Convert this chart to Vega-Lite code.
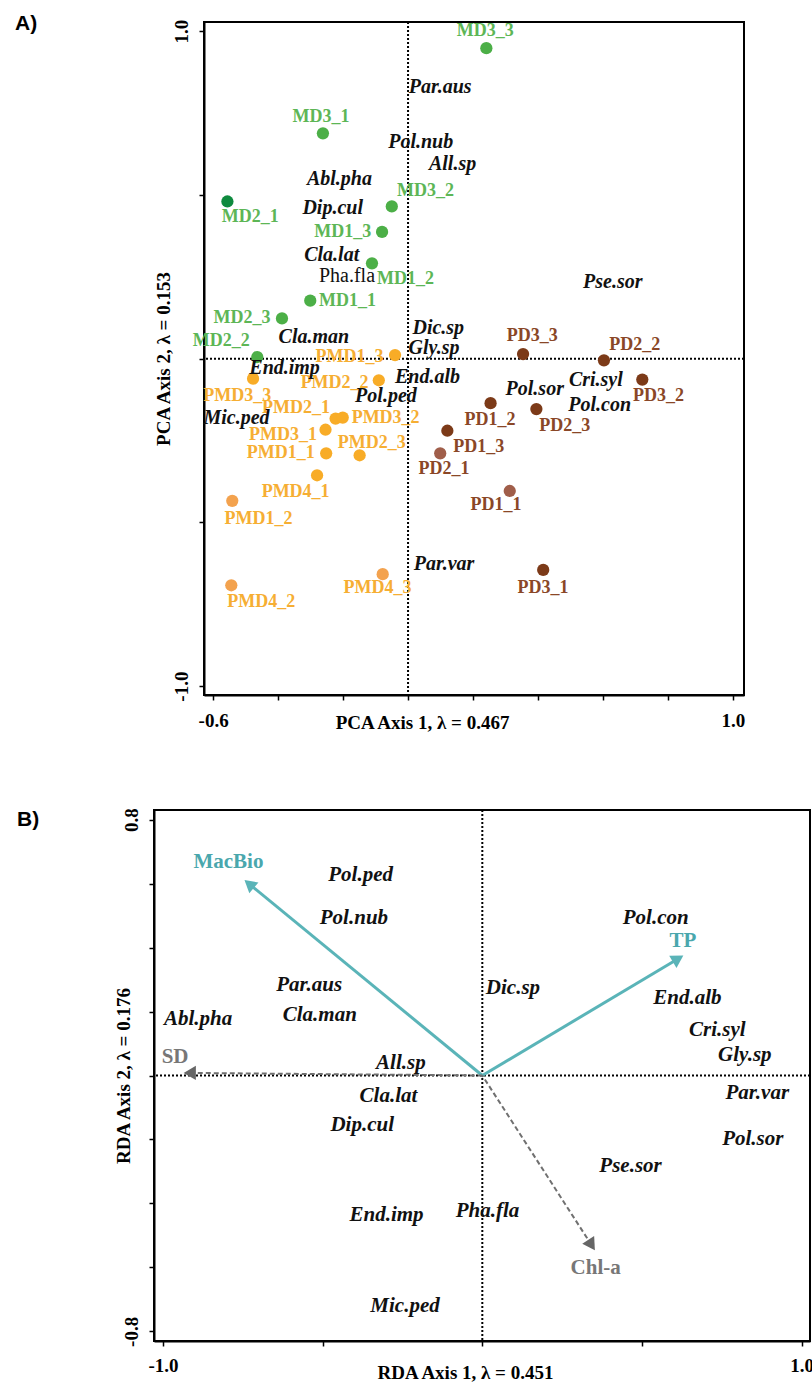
{
  "$schema": "https://vega.github.io/schema/vega-lite/v6.json",
  "padding": {"left": 15, "top": 13, "right": 0, "bottom": 5},
  "datasets": {
    "sitesA": [
      {"id": "MD3_3", "site": "MD", "tone": "MD", "x": 0.241, "y": 0.948, "lx": 0.238, "ly": 1.0},
      {"id": "MD3_1", "site": "MD", "tone": "MD", "x": -0.262, "y": 0.688, "lx": -0.268, "ly": 0.737},
      {"id": "MD2_1", "site": "MD", "tone": "MDd", "x": -0.556, "y": 0.48, "lx": -0.486, "ly": 0.432},
      {"id": "MD3_2", "site": "MD", "tone": "MD", "x": -0.05, "y": 0.465, "lx": 0.054, "ly": 0.511},
      {"id": "MD1_3", "site": "MD", "tone": "MD", "x": -0.08, "y": 0.387, "lx": -0.201, "ly": 0.386},
      {"id": "MD1_2", "site": "MD", "tone": "MD", "x": -0.111, "y": 0.291, "lx": -0.008, "ly": 0.243},
      {"id": "MD1_1", "site": "MD", "tone": "MD", "x": -0.301, "y": 0.177, "lx": -0.186, "ly": 0.176},
      {"id": "MD2_3", "site": "MD", "tone": "MD", "x": -0.388, "y": 0.123, "lx": -0.511, "ly": 0.124},
      {"id": "MD2_2", "site": "MD", "tone": "MD", "x": -0.464, "y": 0.005, "lx": -0.575, "ly": 0.053},
      {"id": "PMD1_3", "site": "PMD", "tone": "PMD", "x": -0.04, "y": 0.011, "lx": -0.18, "ly": 0.004},
      {"id": "PMD3_3", "site": "PMD", "tone": "PMD", "x": -0.477, "y": -0.061, "lx": -0.526, "ly": -0.115},
      {"id": "PMD2_2", "site": "PMD", "tone": "PMD", "x": -0.09, "y": -0.066, "lx": -0.226, "ly": -0.073},
      {"id": "PMD2_1", "site": "PMD", "tone": "PMD", "x": -0.223, "y": -0.183, "lx": -0.345, "ly": -0.151},
      {"id": "PMD3_2", "site": "PMD", "tone": "PMD", "x": -0.201, "y": -0.18, "lx": -0.069, "ly": -0.182},
      {"id": "PMD3_1", "site": "PMD", "tone": "PMD", "x": -0.254, "y": -0.217, "lx": -0.385, "ly": -0.234},
      {"id": "PMD1_1", "site": "PMD", "tone": "PMD", "x": -0.252, "y": -0.289, "lx": -0.392, "ly": -0.289},
      {"id": "PMD2_3", "site": "PMD", "tone": "PMD", "x": -0.149, "y": -0.295, "lx": -0.112, "ly": -0.256},
      {"id": "PMD4_1", "site": "PMD", "tone": "PMD", "x": -0.28, "y": -0.356, "lx": -0.346, "ly": -0.407},
      {"id": "PMD1_2", "site": "PMD", "tone": "PMDl", "x": -0.541, "y": -0.434, "lx": -0.46, "ly": -0.49},
      {"id": "PMD4_2", "site": "PMD", "tone": "PMDl", "x": -0.544, "y": -0.692, "lx": -0.452, "ly": -0.744},
      {"id": "PMD4_3", "site": "PMD", "tone": "PMDl", "x": -0.078, "y": -0.658, "lx": -0.094, "ly": -0.701},
      {"id": "PD3_3", "site": "PD", "tone": "PD", "x": 0.354, "y": 0.014, "lx": 0.382, "ly": 0.07},
      {"id": "PD2_2", "site": "PD", "tone": "PD", "x": 0.603, "y": -0.005, "lx": 0.698, "ly": 0.041},
      {"id": "PD3_2", "site": "PD", "tone": "PD", "x": 0.721, "y": -0.064, "lx": 0.771, "ly": -0.115},
      {"id": "PD1_2", "site": "PD", "tone": "PD", "x": 0.254, "y": -0.136, "lx": 0.252, "ly": -0.187},
      {"id": "PD2_3", "site": "PD", "tone": "PD", "x": 0.395, "y": -0.154, "lx": 0.482, "ly": -0.205},
      {"id": "PD1_3", "site": "PD", "tone": "PD", "x": 0.121, "y": -0.22, "lx": 0.218, "ly": -0.271},
      {"id": "PD2_1", "site": "PD", "tone": "PDl", "x": 0.099, "y": -0.289, "lx": 0.111, "ly": -0.337},
      {"id": "PD1_1", "site": "PD", "tone": "PDl", "x": 0.313, "y": -0.404, "lx": 0.271, "ly": -0.447},
      {"id": "PD3_1", "site": "PD", "tone": "PD", "x": 0.416, "y": -0.645, "lx": 0.415, "ly": -0.699}
    ],
    "speciesA": [
      {"sp": "Par.aus", "x": 0.099, "y": 0.828},
      {"sp": "Pol.nub", "x": 0.039, "y": 0.661},
      {"sp": "All.sp", "x": 0.137, "y": 0.593},
      {"sp": "Abl.pha", "x": -0.211, "y": 0.548},
      {"sp": "Dip.cul", "x": -0.232, "y": 0.459},
      {"sp": "Cla.lat", "x": -0.235, "y": 0.317},
      {"sp": "Pha.fla", "x": -0.188, "y": 0.253},
      {"sp": "Cla.man", "x": -0.29, "y": 0.067},
      {"sp": "Dic.sp", "x": 0.093, "y": 0.095},
      {"sp": "Gly.sp", "x": 0.08, "y": 0.032},
      {"sp": "End.imp", "x": -0.38, "y": -0.027},
      {"sp": "End.alb", "x": 0.06, "y": -0.057},
      {"sp": "Pol.ped", "x": -0.068, "y": -0.114},
      {"sp": "Mic.ped", "x": -0.528, "y": -0.18},
      {"sp": "Par.var", "x": 0.111, "y": -0.627},
      {"sp": "Pol.sor", "x": 0.39, "y": -0.093},
      {"sp": "Pse.sor", "x": 0.63, "y": 0.235},
      {"sp": "Cri.syl", "x": 0.578, "y": -0.065},
      {"sp": "Pol.con", "x": 0.59, "y": -0.142}
    ],
    "speciesB": [
      {"sp": "Pol.ped", "x": -0.381, "y": 0.627},
      {"sp": "Pol.nub", "x": -0.402, "y": 0.493},
      {"sp": "Par.aus", "x": -0.542, "y": 0.282},
      {"sp": "Cla.man", "x": -0.509, "y": 0.19},
      {"sp": "Abl.pha", "x": -0.89, "y": 0.178},
      {"sp": "All.sp", "x": -0.255, "y": 0.039},
      {"sp": "Cla.lat", "x": -0.294, "y": -0.065},
      {"sp": "Dip.cul", "x": -0.376, "y": -0.154},
      {"sp": "End.imp", "x": -0.3, "y": -0.436},
      {"sp": "Mic.ped", "x": -0.242, "y": -0.722},
      {"sp": "Pha.fla", "x": 0.016, "y": -0.423},
      {"sp": "Pse.sor", "x": 0.464, "y": -0.284},
      {"sp": "Par.var", "x": 0.861, "y": -0.055},
      {"sp": "Pol.sor", "x": 0.847, "y": -0.198},
      {"sp": "Dic.sp", "x": 0.096, "y": 0.274},
      {"sp": "Pol.con", "x": 0.543, "y": 0.493},
      {"sp": "End.alb", "x": 0.642, "y": 0.243},
      {"sp": "Cri.syl", "x": 0.736, "y": 0.143},
      {"sp": "Gly.sp", "x": 0.822, "y": 0.063}
    ],
    "envB": [
      {"var": "MacBio", "x": -0.73, "y": 0.599, "lx": -0.795, "ly": 0.667},
      {"var": "TP", "x": 0.613, "y": 0.365, "lx": 0.628, "ly": 0.422},
      {"var": "SD", "x": -0.916, "y": 0.008, "lx": -0.962, "ly": 0.057},
      {"var": "Chl-a", "x": 0.342, "y": -0.53, "lx": 0.355, "ly": -0.603}
    ]
  },
  "spacing": 73,
  "vconcat": [
    {
      "hconcat": [
        {
          "width": 50,
          "height": 673,
          "data": {"values": [{}]},
          "mark": {"type": "point", "opacity": 0},
          "view": {"stroke": null},
          "title": {"text": "A)", "anchor": "start", "frame": "group", "dx": -139, "dy": 29, "offset": 0, "baseline": "alphabetic"}
        },
        {
          "width": 540,
          "height": 673,
          "layer": [
            {
              "data": {"values": [{}]},
              "mark": {"type": "rule", "strokeDash": [2, 2], "strokeWidth": 2, "color": "black"},
              "encoding": {
                "y": {"datum": 0, "type": "quantitative", "scale": {"domain": [-1.027, 1.028], "nice": false, "zero": false}, "title": "PCA Axis 2, λ = 0.153"}
              }
            },
            {
              "data": {"values": [{}]},
              "mark": {"type": "rule", "strokeDash": [2, 2], "strokeWidth": 2, "color": "black"},
              "encoding": {
                "x": {"datum": 0, "type": "quantitative", "scale": {"domain": [-0.628, 1.034], "nice": false, "zero": false}, "title": "PCA Axis 1, λ = 0.467"}
              }
            },
            {
              "data": {"name": "sitesA"},
              "mark": {"type": "circle", "opacity": 1, "size": 150},
              "encoding": {
                "x": {"field": "x", "type": "quantitative", "scale": {"domain": [-0.628, 1.034], "nice": false, "zero": false}, "title": "PCA Axis 1, λ = 0.467",
                  "axis": {"values": [-0.6, -0.4, -0.2, 0, 0.2, 0.4, 0.6, 0.8, 1.0], "labelExpr": "datum.value < -0.5 ? '-0.6' : datum.value > 0.9 ? '1.0' : ''", "labelFlush": true, "labelFlushOffset": 7, "labelPadding": 11, "labelOverlap": false, "titleX": 218, "titleY": 33, "titleBaseline": "alphabetic"}},
                "y": {"field": "y", "type": "quantitative", "scale": {"domain": [-1.027, 1.028], "nice": false, "zero": false}, "title": "PCA Axis 2, λ = 0.153",
                  "axis": {"values": [-1, -0.5, 0, 0.5, 1], "labelExpr": "datum.value > 0.9 ? '1.0' : datum.value < -0.9 ? '-1.0' : ''", "labelAngle": 270, "labelAlign": "center", "labelBaseline": "bottom", "labelPadding": 8, "labelOverlap": false, "titleX": -31}},
                "color": {"field": "tone", "type": "nominal", "scale": {"domain": ["MD", "MDd", "PMD", "PMDl", "PD", "PDl"], "range": ["#4caf47", "#0e8a3e", "#f8ac27", "#f3a24e", "#7c3a18", "#a05e4a"]}, "legend": null}
              }
            },
            {
              "data": {"name": "sitesA"},
              "mark": {"type": "text", "font": "Liberation Serif", "fontWeight": "bold", "fontSize": 18, "baseline": "middle"},
              "encoding": {
                "x": {"field": "lx", "type": "quantitative", "scale": {"domain": [-0.628, 1.034], "nice": false, "zero": false}, "title": "PCA Axis 1, λ = 0.467"},
                "y": {"field": "ly", "type": "quantitative", "scale": {"domain": [-1.027, 1.028], "nice": false, "zero": false}, "title": "PCA Axis 2, λ = 0.153"},
                "text": {"field": "id"},
                "color": {"field": "site", "type": "nominal", "scale": {"domain": ["MD", "PMD", "PD"], "range": ["#5db656", "#f6ae33", "#8a4727"]}, "legend": null}
              }
            },
            {
              "data": {"name": "speciesA"},
              "transform": [{"filter": "datum.sp != 'Pha.fla'"}],
              "mark": {"type": "text", "font": "Liberation Serif", "fontWeight": "bold", "fontStyle": "italic", "fontSize": 20, "baseline": "middle", "color": "#111111"},
              "encoding": {
                "x": {"field": "x", "type": "quantitative", "scale": {"domain": [-0.628, 1.034], "nice": false, "zero": false}, "title": "PCA Axis 1, λ = 0.467"},
                "y": {"field": "y", "type": "quantitative", "scale": {"domain": [-1.027, 1.028], "nice": false, "zero": false}, "title": "PCA Axis 2, λ = 0.153"},
                "text": {"field": "sp"}
              }
            },
            {
              "data": {"name": "speciesA"},
              "transform": [{"filter": "datum.sp == 'Pha.fla'"}],
              "mark": {"type": "text", "font": "Liberation Serif", "fontSize": 20, "baseline": "middle", "color": "#111111"},
              "encoding": {
                "x": {"field": "x", "type": "quantitative", "scale": {"domain": [-0.628, 1.034], "nice": false, "zero": false}, "title": "PCA Axis 1, λ = 0.467"},
                "y": {"field": "y", "type": "quantitative", "scale": {"domain": [-1.027, 1.028], "nice": false, "zero": false}, "title": "PCA Axis 2, λ = 0.153"},
                "text": {"field": "sp"}
              }
            }
          ],
          "resolve": {"scale": {"color": "independent"}}
        }
      ],
      "spacing": 0,
      "bounds": "flush"
    },
    {
      "width": 656,
      "height": 531,
      "title": {"text": "B)", "anchor": "start", "frame": "group", "dx": -137, "dy": 39, "offset": 0, "baseline": "alphabetic"},
      "layer": [
        {
          "data": {"values": [{}]},
          "mark": {"type": "rule", "strokeDash": [2, 2], "strokeWidth": 2, "color": "black"},
          "encoding": {
            "y": {"datum": 0, "type": "quantitative", "scale": {"domain": [-0.83, 0.83], "nice": false, "zero": false}, "title": "RDA Axis 2, λ = 0.176"}
          }
        },
        {
          "data": {"values": [{}]},
          "mark": {"type": "rule", "strokeDash": [2, 2], "strokeWidth": 2, "color": "black"},
          "encoding": {
            "x": {"datum": 0, "type": "quantitative", "scale": {"domain": [-1.028, 1.026], "nice": false, "zero": false}, "title": "RDA Axis 1, λ = 0.451"}
          }
        },
        {
          "data": {"name": "envB"},
          "transform": [{"filter": "datum.var == 'MacBio' || datum.var == 'TP'"}],
          "mark": {"type": "rule", "color": "#5ab4b8", "strokeWidth": 3},
          "encoding": {
            "x": {"field": "x", "type": "quantitative", "scale": {"domain": [-1.028, 1.026], "nice": false, "zero": false}, "title": "RDA Axis 1, λ = 0.451"},
            "y": {"field": "y", "type": "quantitative", "scale": {"domain": [-0.83, 0.83], "nice": false, "zero": false}, "title": "RDA Axis 2, λ = 0.176"},
            "x2": {"datum": 0},
            "y2": {"datum": 0}
          }
        },
        {
          "data": {"name": "envB"},
          "transform": [{"filter": "datum.var == 'SD' || datum.var == 'Chl-a'"}],
          "mark": {"type": "rule", "color": "#707070", "strokeWidth": 2, "strokeDash": [5, 3]},
          "encoding": {
            "x": {"field": "x", "type": "quantitative", "scale": {"domain": [-1.028, 1.026], "nice": false, "zero": false}, "title": "RDA Axis 1, λ = 0.451"},
            "y": {"field": "y", "type": "quantitative", "scale": {"domain": [-0.83, 0.83], "nice": false, "zero": false}, "title": "RDA Axis 2, λ = 0.176"},
            "x2": {"datum": 0},
            "y2": {"datum": 0}
          }
        },
        {
          "data": {"name": "envB"},
          "transform": [{"filter": "datum.var == 'MacBio'"}],
          "mark": {"type": "point", "shape": "triangle-up", "filled": true, "opacity": 1, "size": 200, "angle": 310, "color": "#5ab4b8"},
          "encoding": {
            "x": {"field": "x", "type": "quantitative", "scale": {"domain": [-1.028, 1.026], "nice": false, "zero": false}, "title": "RDA Axis 1, λ = 0.451"},
            "y": {"field": "y", "type": "quantitative", "scale": {"domain": [-0.83, 0.83], "nice": false, "zero": false}, "title": "RDA Axis 2, λ = 0.176"}
          }
        },
        {
          "data": {"name": "envB"},
          "transform": [{"filter": "datum.var == 'TP'"}],
          "mark": {"type": "point", "shape": "triangle-up", "filled": true, "opacity": 1, "size": 200, "angle": 59, "color": "#5ab4b8"},
          "encoding": {
            "x": {"field": "x", "type": "quantitative", "scale": {"domain": [-1.028, 1.026], "nice": false, "zero": false}, "title": "RDA Axis 1, λ = 0.451"},
            "y": {"field": "y", "type": "quantitative", "scale": {"domain": [-0.83, 0.83], "nice": false, "zero": false}, "title": "RDA Axis 2, λ = 0.176"}
          }
        },
        {
          "data": {"name": "envB"},
          "transform": [{"filter": "datum.var == 'SD'"}],
          "mark": {"type": "point", "shape": "triangle-up", "filled": true, "opacity": 1, "size": 200, "angle": 270, "color": "#666666"},
          "encoding": {
            "x": {"field": "x", "type": "quantitative", "scale": {"domain": [-1.028, 1.026], "nice": false, "zero": false}, "title": "RDA Axis 1, λ = 0.451"},
            "y": {"field": "y", "type": "quantitative", "scale": {"domain": [-0.83, 0.83], "nice": false, "zero": false}, "title": "RDA Axis 2, λ = 0.176"}
          }
        },
        {
          "data": {"name": "envB"},
          "transform": [{"filter": "datum.var == 'Chl-a'"}],
          "mark": {"type": "point", "shape": "triangle-up", "filled": true, "opacity": 1, "size": 200, "angle": 147, "color": "#666666"},
          "encoding": {
            "x": {"field": "x", "type": "quantitative", "scale": {"domain": [-1.028, 1.026], "nice": false, "zero": false}, "title": "RDA Axis 1, λ = 0.451"},
            "y": {"field": "y", "type": "quantitative", "scale": {"domain": [-0.83, 0.83], "nice": false, "zero": false}, "title": "RDA Axis 2, λ = 0.176"}
          }
        },
        {
          "data": {"name": "envB"},
          "mark": {"type": "text", "font": "Liberation Serif", "fontWeight": "bold", "fontSize": 21, "baseline": "middle"},
          "encoding": {
            "x": {"field": "lx", "type": "quantitative", "scale": {"domain": [-1.028, 1.026], "nice": false, "zero": false}, "title": "RDA Axis 1, λ = 0.451"},
            "y": {"field": "ly", "type": "quantitative", "scale": {"domain": [-0.83, 0.83], "nice": false, "zero": false}, "title": "RDA Axis 2, λ = 0.176"},
            "text": {"field": "var"},
            "color": {"field": "var", "type": "nominal", "scale": {"domain": ["MacBio", "TP", "SD", "Chl-a"], "range": ["#4aa7ad", "#4aa7ad", "#777777", "#777777"]}, "legend": null}
          }
        },
        {
          "data": {"name": "speciesB"},
          "mark": {"type": "text", "font": "Liberation Serif", "fontWeight": "bold", "fontStyle": "italic", "fontSize": 21, "baseline": "middle", "color": "#111111"},
          "encoding": {
            "x": {"field": "x", "type": "quantitative", "scale": {"domain": [-1.028, 1.026], "nice": false, "zero": false}, "title": "RDA Axis 1, λ = 0.451",
              "axis": {"values": [-1, -0.5, 0, 0.5, 1], "labelExpr": "datum.value < -0.9 ? '-1.0' : datum.value > 0.9 ? '1.0' : ''", "labelFlush": true, "labelFlushOffset": 7, "labelPadding": 10, "labelOverlap": false, "titleX": 311, "titleY": 37, "titleBaseline": "alphabetic"}},
            "y": {"field": "y", "type": "quantitative", "scale": {"domain": [-0.83, 0.83], "nice": false, "zero": false}, "title": "RDA Axis 2, λ = 0.176",
              "axis": {"values": [-0.8, -0.6, -0.4, -0.2, 0, 0.2, 0.4, 0.6, 0.8], "labelExpr": "datum.value > 0.7 ? '0.8' : datum.value < -0.7 ? '-0.8' : ''", "labelAngle": 270, "labelAlign": "center", "labelBaseline": "bottom", "labelPadding": 8, "labelOverlap": false, "titleX": -21}},
            "text": {"field": "sp"}
          }
        }
      ]
    }
  ],
  "config": {
    "view": {"stroke": "black", "strokeWidth": 2},
    "axis": {"grid": false, "domainColor": "black", "domainWidth": 2, "tickColor": "black", "tickWidth": 1.5, "tickSize": 5, "labelFont": "Liberation Serif", "labelFontWeight": "bold", "labelFontSize": 19, "labelColor": "black", "titleFont": "Liberation Serif", "titleFontWeight": "bold", "titleFontSize": 19, "titleColor": "black"},
    "title": {"font": "Liberation Sans", "fontWeight": "bold", "fontSize": 21, "color": "black"}
  }
}
